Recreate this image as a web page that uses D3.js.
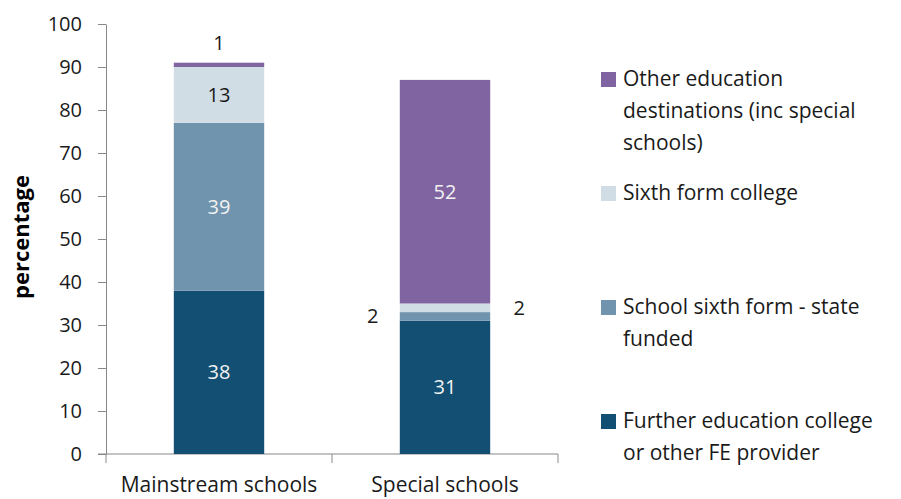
<!DOCTYPE html>
<html>
<head>
<meta charset="utf-8">
<script src="https://cdn.jsdelivr.net/npm/d3@7"></script>
<style>
  body { margin: 0; background: #fff; }
  text { font-family: "Open Sans", Lato, sans-serif; }
</style>
</head>
<body>
<div id="chart"></div>
<script>
// data
var categories = ['Mainstream schools', 'Special schools'];
var seriesNames = ['Further education college or other FE provider',
                   'School sixth form - state funded',
                   'Sixth form college',
                   'Other education destinations (inc special schools)'];
var furtherEd = [38, 31];
var schoolSixth = [39, 2];
var sixthCollege = [13, 2];
var otherEd = [1, 52];
var yTicks = [0, 10, 20, 30, 40, 50, 60, 70, 80, 90, 100];
var colors = ['#134f72', '#7194ae', '#d1dde5', '#8064a1'];
var legendLines = [
  ['Other education', 'destinations (inc special', 'schools)'],
  ['Sixth form college'],
  ['School sixth form - state', 'funded'],
  ['Further education college', 'or other FE provider']
];

var margin = { top: 24, left: 106, bottom: 45, right: 343 },
    width = 901 - margin.left - margin.right,
    height = 499 - margin.top - margin.bottom;

var svg = d3.select('#chart').append('svg')
  .attr('width', 901)
  .attr('height', 499)
  .append('g')
  .attr('transform', 'translate(' + margin.left + ',' + margin.top + ')');

var x = d3.scaleBand().domain(categories).range([0, width]).paddingInner(0.6).paddingOuter(0.3);
var y = d3.scaleLinear().domain([0, 100]).range([height, 0]);

var rows = categories.map((c, i) => ({
  cat: c,
  s0: furtherEd[i], s1: schoolSixth[i], s2: sixthCollege[i], s3: otherEd[i]
}));
var stack = d3.stack().keys(['s0', 's1', 's2', 's3']);
var layers = stack(rows);

// axes
var yAxis = d3.axisLeft(y).tickValues(yTicks).tickSize(8).tickSizeOuter(0);
var gy = svg.append('g').call(yAxis);
gy.select('.domain').attr('stroke', '#888');
gy.selectAll('.tick line').attr('stroke', '#888');
gy.selectAll('.tick text').attr('x', -24).style('font-size', '20px').attr('fill', '#1a1a1a');

// x axis line with ticks at band boundaries
var xBounds = [0, width / 2, width];
svg.append('line')
  .attr('x1', -8).attr('x2', width)
  .attr('y1', height).attr('y2', height)
  .attr('stroke', '#888');
svg.selectAll('.xtick')
  .data(xBounds)
  .enter().append('line')
  .attr('x1', d => d).attr('x2', d => d)
  .attr('y1', height).attr('y2', height + 9)
  .attr('stroke', '#888');

var catCenter = d => x(d) + x.bandwidth() / 2;
svg.selectAll('.cat')
  .data(categories)
  .enter().append('text')
  .attr('x', d => catCenter(d))
  .attr('y', height + 38)
  .attr('text-anchor', 'middle')
  .style('font-size', '21px')
  .attr('fill', '#1a1a1a')
  .text(d => d);

// bars
svg.selectAll('.layer')
  .data(layers)
  .enter().append('g')
  .attr('fill', (d, i) => colors[i])
  .selectAll('rect')
  .data(d => d)
  .enter().append('rect')
  .attr('x', d => x(d.data.cat))
  .attr('y', d => y(d[1]))
  .attr('width', x.bandwidth())
  .attr('height', d => y(d[0]) - y(d[1]));

// value labels
var labels = [];
layers.forEach((layer, li) => {
  layer.forEach(d => {
    var v = d[1] - d[0];
    var cx = catCenter(d.data.cat);
    var cy = y((d[0] + d[1]) / 2);
    var lx = cx, anchor = 'middle', fill = (li === 2) ? '#1a1a1a' : '#f2f2f2';
    if (v < 5) {
      fill = '#1a1a1a';
      if (li === 3) { cy = y(d[1]) - 20; }
      else if (li === 1) { lx = x(d.data.cat) - 27; }
      else { lx = x(d.data.cat) + x.bandwidth() + 29; }
    }
    labels.push({ v: v, x: lx, y: cy, fill: fill, anchor: anchor });
  });
});
svg.selectAll('.val')
  .data(labels)
  .enter().append('text')
  .attr('x', d => d.x)
  .attr('y', d => d.y)
  .attr('dy', '0.35em')
  .attr('text-anchor', d => d.anchor)
  .attr('fill', d => d.fill)
  .style('font-size', '20px')
  .text(d => d.v);

// y label
svg.append('text')
  .attr('transform', 'rotate(-90)')
  .attr('x', -213)
  .attr('y', -85)
  .attr('dy', '0.35em')
  .attr('text-anchor', 'middle')
  .style('font-size', '22px')
  .style('font-weight', 'bold')
  .attr('fill', '#000')
  .text('percentage');

// legend
var legend = d3.select('svg').append('g').attr('transform', 'translate(601,79)');
var items = legend.selectAll('.item')
  .data(legendLines)
  .enter().append('g')
  .attr('transform', (d, i) => 'translate(0,' + i * 114 + ')');
items.append('rect')
  .attr('x', 0).attr('y', -7)
  .attr('width', 15).attr('height', 15)
  .attr('fill', (d, i) => colors[3 - i]);
items.append('text')
  .style('font-size', '21px')
  .attr('fill', '#1a1a1a')
  .selectAll('tspan')
  .data(d => d)
  .enter().append('tspan')
  .attr('x', 22)
  .attr('y', (d, i) => i * 32)
  .attr('dy', '0.35em')
  .text(d => d);
</script>
</body>
</html>
